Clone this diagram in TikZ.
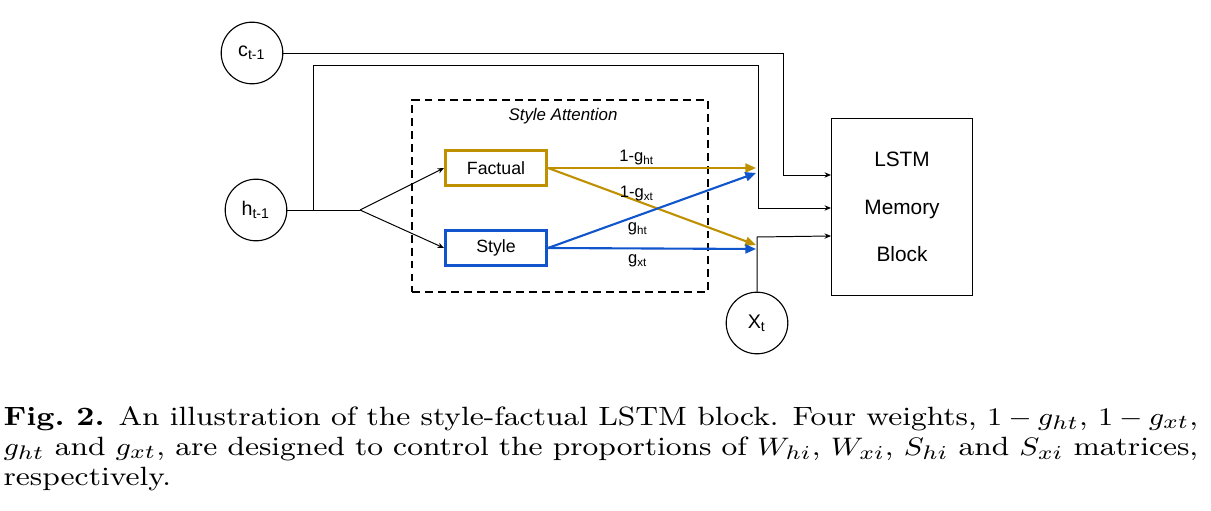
\documentclass[tikz,border=0pt]{standalone}
\usepackage{amsmath,amssymb}
\usepackage{fontspec}
\usepackage{tikz}
\usetikzlibrary{arrows.meta,positioning,calc}
\newfontfamily\diagfont{Liberation Sans}
\definecolor{gold}{HTML}{BF9000}
\definecolor{gblue}{HTML}{1155CC}

\begin{document}
\begin{tikzpicture}[x=0.0125cm,y=-0.0125cm,>=Stealth,font=\diagfont,
  circ/.style={draw,circle,line width=0.4pt,minimum size=0.77cm,inner sep=0pt,
    font=\diagfont\fontsize{7}{8}\selectfont},
  gbox/.style={draw,line width=1.1pt,minimum width=1.26cm,minimum height=0.44cm,
    font=\diagfont\fontsize{6.3}{7}\selectfont},
  wire/.style={line width=0.35pt,-{Stealth[length=2.3pt,width=1.9pt]}},
  cwire/.style={line width=0.75pt,-{Triangle[length=3.8pt,width=3.2pt]}},
  lab/.style={inner sep=0pt,font=\diagfont\fontsize{5.9}{7}\selectfont}]
  \useasboundingbox (0,0) rectangle (1211,511);

  % inputs
  \node[circ] (c) at (252,53) {c\textsubscript{t-1}};
  \node[circ] (h) at (256,210) {h\textsubscript{t-1}};
  \node[circ] (x) at (757,323) {X\textsubscript{t}};

  % style attention
  \node[draw,dashed,line width=0.7pt,dash pattern=on 2.8pt off 1.8pt,
        minimum width=3.69cm,minimum height=2.41cm] (attn) at (560,196) {};
  \node[font=\diagfont\itshape\fontsize{6}{7}\selectfont] (attnlab) at (563,116) {Style Attention};
  \node[gbox,draw=gold] (fact) at (496,168) {Factual};
  \node[gbox,draw=gblue] (sty) at (496,248) {Style};

  % memory block
  \node[draw,line width=0.4pt,minimum width=1.76cm,minimum height=2.21cm,align=center,
        font=\diagfont\fontsize{7.4}{16.9}\selectfont] (lstm) at (902,207) {LSTM\\Memory\\Block};

  \coordinate (hsplit) at (313,210);
  \coordinate (hfork) at (360,210);
  \coordinate (htop) at (758,65);
  \coordinate (ctop) at (783,53);
  \coordinate (xbend) at (757,237);
  \coordinate (in1) at (831,175);
  \coordinate (in2) at (831,208);
  \coordinate (in3) at (831,236);
  \coordinate (gh1) at (756,168);
  \coordinate (gh2) at (756,173);
  \coordinate (gx1) at (756,245);
  \coordinate (gx2) at (756,249);

  % wires
  \draw[wire] (c) -- (ctop) |- (in1);
  \draw[line width=0.35pt] (h) -- (hfork);
  \draw[wire] (hsplit) |- (htop) |- (in2);
  \draw[wire] (hfork) -- (fact.west);
  \draw[wire] (hfork) -- (sty.west);
  \draw[wire] (x) -- (xbend) -- (in3);

  % weighted paths
  \draw[cwire,gold] (fact.east) -- (gh1);
  \draw[cwire,gold] (fact.east) -- (gx1);
  \draw[cwire,gblue] (sty.east) -- (gh2);
  \draw[cwire,gblue] (sty.east) -- (gx2);
  \node[lab] (l1) at (637,158) {1-g\textsubscript{ht}};
  \node[lab] (l2) at (637,194) {1-g\textsubscript{xt}};
  \node[lab] (l3) at (638,229) {g\textsubscript{ht}};
  \node[lab] (l4) at (638,261) {g\textsubscript{xt}};

  % caption
  \node[anchor=base west,inner sep=0pt,font=\normalfont\fontsize{9.4}{10.67}\selectfont] (cap) at (3,425)
    {\scalebox{1.16}[1]{\parbox[t]{12.87cm}{\textbf{Fig.~2.} An illustration of the style-factual LSTM block. Four weights, $1-g_{ht}$, $1-g_{xt}$,
     $g_{ht}$ and $g_{xt}$, are designed to control the proportions of $W_{hi}$, $W_{xi}$, $S_{hi}$ and $S_{xi}$ matrices,
     respectively.}}};
\end{tikzpicture}
\end{document}
